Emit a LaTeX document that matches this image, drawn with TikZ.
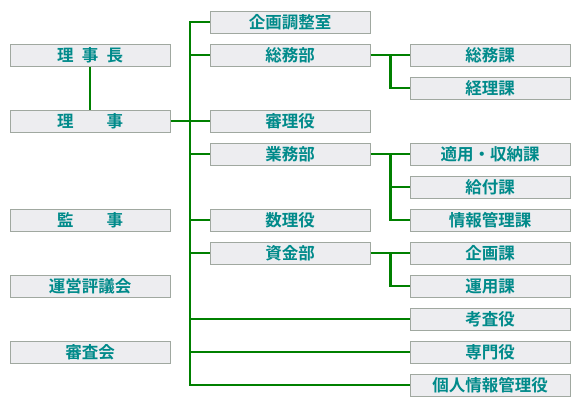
\documentclass[tikz,border=0pt]{standalone}
\usepackage{fontspec}
\setmainfont{Noto Sans CJK JP}[BoldFont={* Bold}]
\definecolor{boxline}{HTML}{A0A8A0}
\definecolor{boxfill}{HTML}{EDEDF0}
\definecolor{txt}{HTML}{008A8A}
\definecolor{conn}{HTML}{008000}
\begin{document}
\begin{tikzpicture}[x=1pt,y=-1pt,
  box/.style={draw=boxline,fill=boxfill,line width=1pt,minimum width=160pt,minimum height=22pt,inner sep=0pt,
    text=txt,font=\fontsize{16.5pt}{17pt}\selectfont\bfseries},
  link/.style={draw=conn,line width=2.6pt}]
\useasboundingbox (0,0) rectangle (584,408);
% left column
\node[box] (rjc) at (90,55) {理\hspace{0.5em}事\hspace{0.5em}長};
\node[box] (rj) at (90,121) {理\hspace{2em}事};
\node[box] (kj) at (90,220) {監\hspace{2em}事};
\node[box] (un) at (90,286) {運営評議会};
\node[box] (sa) at (90,352) {審査会};
% middle column
\node[box] (kik) at (290,22) {企画調整室};
\node[box] (som) at (290,55) {総務部};
\node[box] (shr) at (290,121) {審理役};
\node[box] (gym) at (290,154) {業務部};
\node[box] (sur) at (290,220) {数理役};
\node[box] (skn) at (290,253) {資金部};
% right column
\node[box] (somk) at (490,55) {総務課};
\node[box] (keir) at (490,88) {経理課};
\node[box] (teki) at (490,154) {適用・収納課};
\node[box] (kyuf) at (490,187) {給付課};
\node[box] (joho) at (490,220) {情報管理課};
\node[box] (kika) at (490,253) {企画課};
\node[box] (unyo) at (490,286) {運用課};
\node[box] (kosa) at (490,319) {考査役};
\node[box] (senm) at (490,352) {専門役};
\node[box] (kojn) at (490,385) {個人情報管理役};
% trunk coordinates
\coordinate (tTop) at (190,22);
\coordinate (tBot) at (190,385);
\draw[link] (rjc.south) -- (rj.north);
\draw[link] (rj.east) -- (rj.east -| tTop);
\draw[link,line cap=rect] (tTop) -- (tBot);
\foreach \n in {kik,som,shr,gym,sur,skn}{\draw[link] (\n.west -| tTop) -- (\n.west);}
\foreach \n in {kosa,senm,kojn}{\draw[link] (\n.west -| tTop) -- (\n.west);}
% sub trunks
\draw[link] (som.east) -- (somk.west);
\draw[link] (som.east) ++(20,0) |- (keir.west);
\draw[link] (gym.east) -- (teki.west);
\draw[link] (gym.east) ++(20,0) |- (joho.west);
\draw[link] (kyuf.west -| 390,0) -- (kyuf.west);
\draw[link] (skn.east) -- (kika.west);
\draw[link] (skn.east) ++(20,0) |- (unyo.west);
\end{tikzpicture}
\end{document}
